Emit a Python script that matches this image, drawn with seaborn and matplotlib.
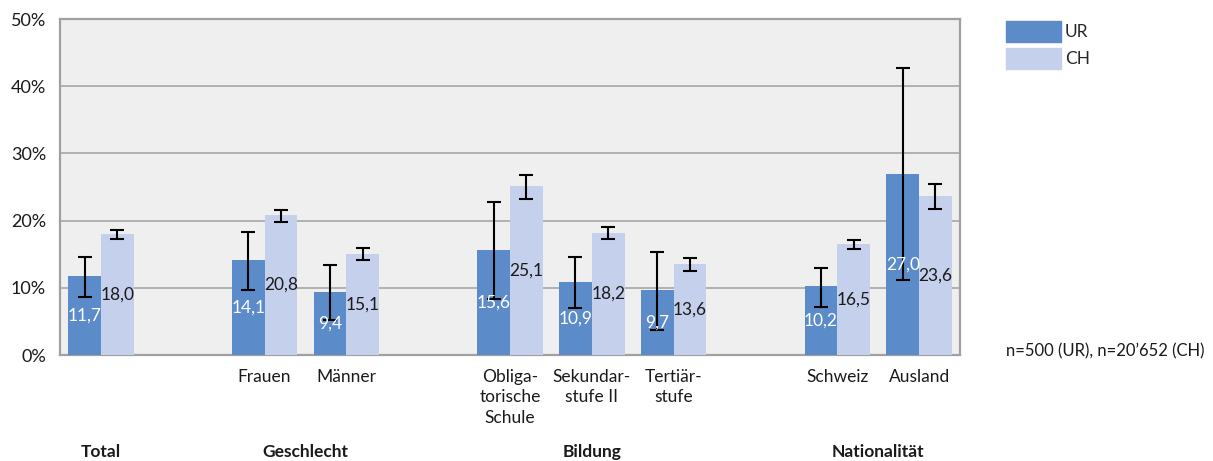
import pandas as pd
import numpy as np
import matplotlib
matplotlib.use("Agg")
import matplotlib.pyplot as plt
import seaborn as sns
from matplotlib.patches import Patch

# Kategorien (leere Slots als Abstand zwischen Gruppen)
order = ["Total", " ", "Frauen", "Männer", "  ",
         "Obliga-\ntorische\nSchule", "Sekundar-\nstufe II", "Tertiär-\nstufe", "   ",
         "Schweiz", "Ausland"]
categories = ["Total", "Frauen", "Männer",
              "Obliga-\ntorische\nSchule", "Sekundar-\nstufe II", "Tertiär-\nstufe",
              "Schweiz", "Ausland"]
tick_labels = ["", "", "Frauen", "Männer", "",
               "Obliga-\ntorische\nSchule", "Sekundar-\nstufe II", "Tertiär-\nstufe", "",
               "Schweiz", "Ausland"]
ur_values = [11.7, 14.1, 9.4, 15.6, 10.9, 9.7, 10.2, 27.0]
ch_values = [18.0, 20.8, 15.1, 25.1, 18.2, 13.6, 16.5, 23.6]
ur_low = [8.6, 9.7, 5.2, 8.3, 7.0, 3.7, 7.2, 11.2]
ur_high = [14.6, 18.3, 13.4, 22.8, 14.6, 15.3, 13.0, 42.7]
ch_low = [17.3, 19.8, 14.1, 23.2, 17.3, 12.5, 15.8, 21.7]
ch_high = [18.6, 21.6, 15.9, 26.8, 19.0, 14.4, 17.1, 25.4]
groups = ["Total", "Geschlecht", "Bildung", "Nationalität"]
group_members = [["Total"], ["Frauen", "Männer"],
                 ["Obliga-\ntorische\nSchule", "Sekundar-\nstufe II", "Tertiär-\nstufe"],
                 ["Schweiz", "Ausland"]]

df = pd.DataFrame({
    "kategorie": categories * 2,
    "region": ["UR"] * len(categories) + ["CH"] * len(categories),
    "wert": ur_values + ch_values,
    "low": ur_low + ch_low,
    "high": ur_high + ch_high,
})

sns.set_style("white")
plt.rcParams["font.family"] = ["Lato", "DejaVu Sans"]

fig, ax = plt.subplots(figsize=(12.13, 4.61), dpi=100)
fig.subplots_adjust(left=60/1213, right=960/1213, top=1-19/461, bottom=1-355/461)

farben = {"UR": "#5B8BC9", "CH": "#C5D0EC"}
sns.barplot(data=df, x="kategorie", y="wert", hue="region", order=order,
            hue_order=["UR", "CH"], palette=farben, width=0.8, saturation=1,
            errorbar=None, ax=ax, zorder=3, linewidth=0, edgecolor="none")

ax.set_facecolor("#EFEFEF")
ax.set_ylim(0, 50)
ax.set_yticks(range(0, 51, 10))
ax.set_yticklabels([f"{v}%" for v in range(0, 51, 10)], fontsize=13, color="#1a1a1a")
ax.yaxis.grid(True, color="#A6A6A6", linewidth=1.2, zorder=0)
ax.set_axisbelow(True)
for s in ax.spines.values():
    s.set_color("#A0A0A0")
    s.set_linewidth(1.6)
ax.tick_params(axis="both", length=0, pad=10)
ax.set_xticks(range(len(order)))
ax.set_xticklabels(tick_labels, fontsize=12.5, color="#1a1a1a", linespacing=1.35, va="top")
ax.tick_params(axis="x", pad=10)
ax.set_xlabel("")
ax.set_ylabel("")
ax.set_xlim(-0.5, len(order) - 0.5)

# Fehlerbalken und Werte
for cont, region in zip(ax.containers, ["UR", "CH"]):
    sub = df[df.region == region].set_index("kategorie")
    bars = sorted(cont.patches, key=lambda b: b.get_x())
    for bar, cat in zip(bars, categories):
        xc = bar.get_x() + bar.get_width() / 2
        w = sub.loc[cat, "wert"]
        ax.errorbar(xc, w, yerr=[[w - sub.loc[cat, "low"]], [sub.loc[cat, "high"] - w]],
                    fmt="none", ecolor="black", elinewidth=1.5, capsize=5,
                    capthick=1.5, zorder=5)
        ax.text(xc, w / 2, f"{w:.1f}".replace(".", ","), ha="center", va="center",
                fontsize=12.5, color="white" if region == "UR" else "#1a1a1a", zorder=6)

# Gruppentitel
for g, members in zip(groups, group_members):
    pos = np.mean([order.index(m) for m in members])
    ax.text(pos, -14.4, g, ha="center", va="center", fontsize=12.5,
            fontweight="bold", color="#1a1a1a")

ax.legend_.remove()
handles = [Patch(color=farben["UR"]), Patch(color=farben["CH"])]
fig.legend(handles, ["UR", "CH"], loc="upper left", bbox_to_anchor=(990/1213, 1-5/461),
           frameon=False, fontsize=12.5, handlelength=3.2, handleheight=1.5,
           labelspacing=0.35, handletextpad=0.2)
fig.text(1006/1213, 1-351/461, "n=500 (UR), n=20’652 (CH)", fontsize=12,
         va="center", ha="left", color="#1a1a1a")

fig.savefig("out.png", dpi=100)
